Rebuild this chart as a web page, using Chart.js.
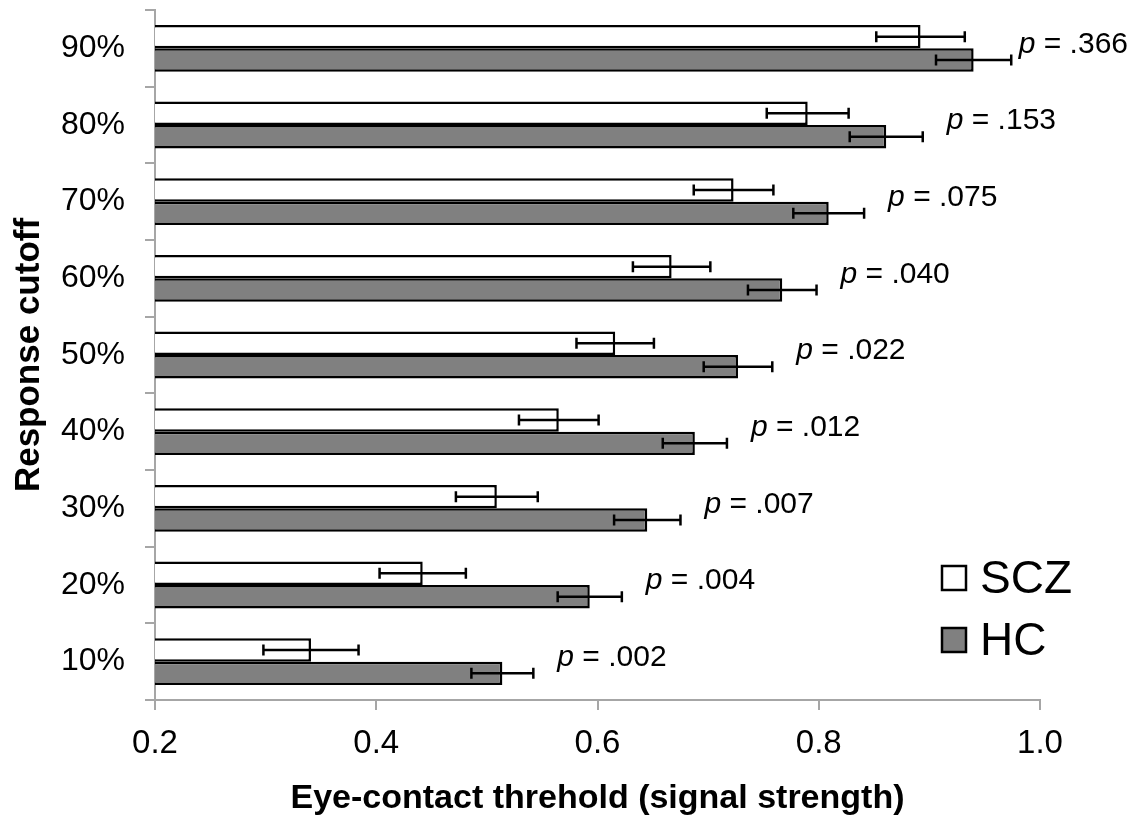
<!DOCTYPE html>
<html>
<head>
<meta charset="utf-8">
<script src="https://cdn.jsdelivr.net/npm/chart.js@4.4.1/dist/chart.umd.min.js"></script>
<style>
  html, body { margin: 0; padding: 0; background: #ffffff; }
  #wrap { width: 1142px; height: 824px; position: relative; }
</style>
</head>
<body>
<div id="wrap"><canvas id="c" width="1142" height="824"></canvas></div>
<script>
// ---- data ----
const categories = ['90%', '80%', '70%', '60%', '50%', '40%', '30%', '20%', '10%'];
const sczValues = [0.892, 0.790, 0.723, 0.667, 0.616, 0.565, 0.509, 0.442, 0.341];
const sczErrors = [0.040, 0.037, 0.036, 0.035, 0.035, 0.036, 0.037, 0.039, 0.043];
const hcValues  = [0.940, 0.861, 0.809, 0.767, 0.727, 0.688, 0.645, 0.593, 0.514];
const hcErrors  = [0.034, 0.033, 0.032, 0.031, 0.031, 0.029, 0.030, 0.029, 0.028];
const pValues   = ['.366', '.153', '.075', '.040', '.022', '.012', '.007', '.004', '.002'];
const xTickValues = [0.2, 0.4, 0.6, 0.8, 1.0];
const seriesNames = ['SCZ', 'HC'];

const SANS = '"Liberation Sans", Arial, sans-serif';
const errorsBySeries = [sczErrors, hcErrors];

const errorBarPlugin = {
  id: 'errorBars',
  afterDatasetsDraw(chart) {
    const ctx = chart.ctx;
    const xs = chart.scales.x;
    ctx.save();
    ctx.strokeStyle = '#000';
    ctx.lineWidth = 2.5;
    chart.data.datasets.forEach((ds, di) => {
      const meta = chart.getDatasetMeta(di);
      meta.data.forEach((bar, i) => {
        const v = ds.data[i], e = errorsBySeries[di][i];
        const x1 = xs.getPixelForValue(v - e), x2 = xs.getPixelForValue(v + e);
        const y = bar.y, h = 5.5;
        ctx.beginPath();
        ctx.moveTo(x1, y); ctx.lineTo(x2, y);
        ctx.moveTo(x1, y - h); ctx.lineTo(x1, y + h);
        ctx.moveTo(x2, y - h); ctx.lineTo(x2, y + h);
        ctx.stroke();
      });
    });
    ctx.restore();
  }
};

const annotationPlugin = {
  id: 'pLabels',
  afterDraw(chart) {
    const ctx = chart.ctx;
    const xs = chart.scales.x, ys = chart.scales.y;
    ctx.save();
    ctx.fillStyle = '#000';
    ctx.textBaseline = 'middle';
    ctx.textAlign = 'left';
    const fs = 30;
    categories.forEach((c, i) => {
      const pPart = 'p';
      const rest = ' = ' + pValues[i];
      ctx.font = 'italic ' + fs + 'px ' + SANS;
      const wp = ctx.measureText(pPart).width;
      ctx.font = fs + 'px ' + SANS;
      const wr = ctx.measureText(rest).width;
      let x = xs.getPixelForValue(hcValues[i] + hcErrors[i]) + 24;
      x = Math.min(x, chart.width - wp - wr - 14);
      const y = ys.getPixelForValue(i) - 4;
      ctx.font = 'italic ' + fs + 'px ' + SANS;
      ctx.fillText(pPart, x, y);
      ctx.font = fs + 'px ' + SANS;
      ctx.fillText(rest, x + wp, y);
    });
    // legend
    const colors = ['#ffffff', '#808080'];
    const lx = chart.chartArea.right - 98, ly0 = chart.chartArea.bottom - 122, gap = 62;
    seriesNames.forEach((n, k) => {
      const cy = ly0 + k * gap;
      ctx.fillStyle = colors[k];
      ctx.fillRect(lx, cy - 12, 24, 24);
      ctx.strokeStyle = '#000';
      ctx.lineWidth = 2.5;
      ctx.strokeRect(lx, cy - 12, 24, 24);
      ctx.fillStyle = '#000';
      ctx.font = '46px ' + SANS;
      ctx.textBaseline = 'middle';
      ctx.fillText(n, lx + 38, cy + 2);
    });
    ctx.restore();
  }
};

new Chart(document.getElementById('c'), {
  type: 'bar',
  data: {
    labels: categories,
    datasets: [
      { label: seriesNames[0], data: sczValues, backgroundColor: '#ffffff', borderColor: '#000000', borderWidth: 2.5, borderSkipped: false },
      { label: seriesNames[1], data: hcValues, backgroundColor: '#808080', borderColor: '#000000', borderWidth: 2.5, borderSkipped: false }
    ]
  },
  options: {
    indexAxis: 'y',
    responsive: false,
    animation: false,
    devicePixelRatio: 1,
    categoryPercentage: 0.61,
    barPercentage: 1.0,
    layout: { padding: { top: 10, right: 102, left: 0, bottom: 0 } },
    plugins: { legend: { display: false }, tooltip: { enabled: false } },
    scales: {
      x: {
        type: 'linear',
        min: 0.2, max: 1.0,
        afterBuildTicks(scale) { scale.ticks = xTickValues.map(v => ({ value: v })); },
        afterFit(scale) { scale.height = 124; scale.paddingLeft = 0; scale.paddingRight = 0; },
        ticks: {
          callback: v => Number(v).toFixed(1),
          font: { family: SANS, size: 33 },
          color: '#000',
          padding: 14,
          maxRotation: 0
        },
        grid: { drawOnChartArea: false, drawTicks: true, tickLength: 10, color: '#a6a6a6', lineWidth: 2 },
        border: { color: '#a6a6a6', width: 2 },
        title: {
          display: true,
          text: 'Eye-contact threhold (signal strength)',
          font: { family: SANS, size: 34, weight: 'bold' },
          color: '#000',
          padding: { top: 0, bottom: 5 }
        }
      },
      y: {
        afterFit(scale) { scale.width = 155; scale.paddingTop = 0; scale.paddingBottom = 0; },
        ticks: {
          font: { family: SANS, size: 32 },
          color: '#000',
          padding: 20
        },
        grid: { drawOnChartArea: false, drawTicks: true, tickLength: 10, color: '#a6a6a6', lineWidth: 2, offset: true },
        border: { color: '#a6a6a6', width: 2 },
        title: {
          display: true,
          text: 'Response cutoff',
          font: { family: SANS, size: 35, weight: 'bold' },
          color: '#000',
          padding: { top: 8, bottom: 0 }
        }
      }
    }
  },
  plugins: [errorBarPlugin, annotationPlugin]
});
</script>
</body>
</html>
